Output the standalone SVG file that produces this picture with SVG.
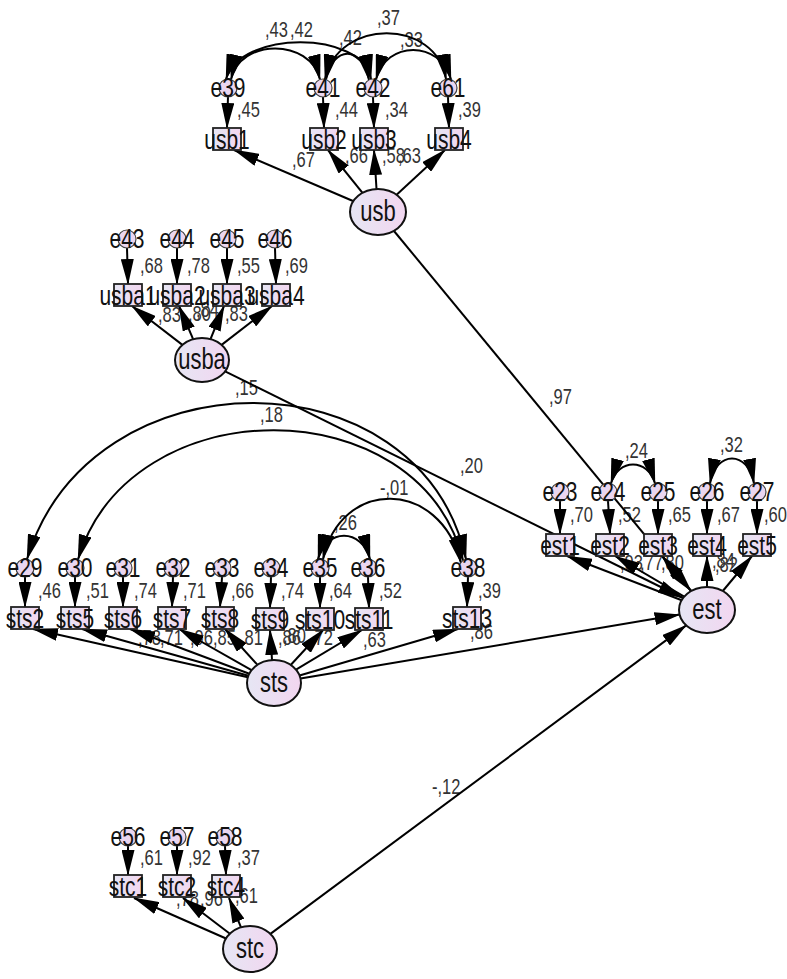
<svg xmlns="http://www.w3.org/2000/svg" width="787" height="979" viewBox="0 0 787 979">
<defs>
<linearGradient id="gl" x1="0" x2="1" y1="0" y2="0"><stop offset="0" stop-color="#e6e6f4"/><stop offset="1" stop-color="#f2d6f0"/></linearGradient>
<marker id="ah" markerUnits="userSpaceOnUse" markerWidth="26" markerHeight="13" refX="25" refY="6.5" orient="auto-start-reverse" viewBox="0 0 26 13"><path d="M0,0 L26,6.5 L0,13 z" fill="#000"/></marker>
<style>
.ln{stroke:#000;stroke-width:2;fill:none;marker-end:url(#ah)}
.cv{stroke:#000;stroke-width:2;fill:none;marker-start:url(#ah);marker-end:url(#ah)}
.bx{fill:url(#gl);stroke:#222;stroke-width:1.8}
.ec{fill:#ead6f0;stroke:#444;stroke-width:1.2}
.lat{fill:url(#gl);stroke:#111;stroke-width:2}
.n{font-family:"Liberation Sans",Arial,sans-serif;font-size:21px;text-anchor:middle;fill:#111}
.lt{font-family:"Liberation Sans",Arial,sans-serif;font-size:22px;text-anchor:middle;fill:#111}
.v{font-family:"Liberation Sans",Arial,sans-serif;font-size:16.5px;fill:#333}
</style>
</defs>
<rect width="787" height="979" fill="#fff"/>
<g id="labels">
<text class="v" transform="translate(237 117) scale(1 1.35)">,45</text>
<text class="v" transform="translate(335 117) scale(1 1.35)">,44</text>
<text class="v" transform="translate(385 117) scale(1 1.35)">,34</text>
<text class="v" transform="translate(458 117) scale(1 1.35)">,39</text>
<text class="v" transform="translate(292 167) scale(1 1.35)">,67</text>
<text class="v" transform="translate(345 163) scale(1 1.35)">,66</text>
<text class="v" transform="translate(382 163) scale(1 1.35)">,58</text>
<text class="v" transform="translate(398 163) scale(1 1.35)">,63</text>
<text class="v" transform="translate(265 37) scale(1 1.35)">,43</text>
<text class="v" transform="translate(290 37) scale(1 1.35)">,42</text>
<text class="v" transform="translate(339 45) scale(1 1.35)">,42</text>
<text class="v" transform="translate(377 25) scale(1 1.35)">,37</text>
<text class="v" transform="translate(400 47) scale(1 1.35)">,33</text>
<text class="v" transform="translate(140 273) scale(1 1.35)">,68</text>
<text class="v" transform="translate(187 273) scale(1 1.35)">,78</text>
<text class="v" transform="translate(237 273) scale(1 1.35)">,55</text>
<text class="v" transform="translate(285 273) scale(1 1.35)">,69</text>
<text class="v" transform="translate(158 322) scale(1 1.35)">,83</text>
<text class="v" transform="translate(188 321) scale(1 1.35)">,80</text>
<text class="v" transform="translate(196 317) scale(1 1.35)">,84</text>
<text class="v" transform="translate(225 321) scale(1 1.35)">,83</text>
<text class="v" transform="translate(549 404) scale(1 1.35)">,97</text>
<text class="v" transform="translate(460 473) scale(1 1.35)">,20</text>
<text class="v" transform="translate(235 395) scale(1 1.35)">,15</text>
<text class="v" transform="translate(260 422) scale(1 1.35)">,18</text>
<text class="v" transform="translate(380 495) scale(1 1.35)">-,01</text>
<text class="v" transform="translate(334 530) scale(1 1.35)">,26</text>
<text class="v" transform="translate(38 598) scale(1 1.35)">,46</text>
<text class="v" transform="translate(86 598) scale(1 1.35)">,51</text>
<text class="v" transform="translate(134 598) scale(1 1.35)">,74</text>
<text class="v" transform="translate(183 598) scale(1 1.35)">,71</text>
<text class="v" transform="translate(231 598) scale(1 1.35)">,66</text>
<text class="v" transform="translate(281 598) scale(1 1.35)">,74</text>
<text class="v" transform="translate(329 598) scale(1 1.35)">,64</text>
<text class="v" transform="translate(379 598) scale(1 1.35)">,52</text>
<text class="v" transform="translate(478 598) scale(1 1.35)">,39</text>
<text class="v" transform="translate(138 645) scale(1 1.35)">,78</text>
<text class="v" transform="translate(160 645) scale(1 1.35)">,71</text>
<text class="v" transform="translate(190 645) scale(1 1.35)">,96</text>
<text class="v" transform="translate(213 645) scale(1 1.35)">,85</text>
<text class="v" transform="translate(240 645) scale(1 1.35)">,81</text>
<text class="v" transform="translate(278 645) scale(1 1.35)">,86</text>
<text class="v" transform="translate(283 643) scale(1 1.35)">,80</text>
<text class="v" transform="translate(310 645) scale(1 1.35)">,72</text>
<text class="v" transform="translate(363 647) scale(1 1.35)">,63</text>
<text class="v" transform="translate(470 639) scale(1 1.35)">,86</text>
<text class="v" transform="translate(570 522) scale(1 1.35)">,70</text>
<text class="v" transform="translate(618 522) scale(1 1.35)">,52</text>
<text class="v" transform="translate(668 522) scale(1 1.35)">,65</text>
<text class="v" transform="translate(717 522) scale(1 1.35)">,67</text>
<text class="v" transform="translate(764 522) scale(1 1.35)">,60</text>
<text class="v" transform="translate(620 570) scale(1 1.35)">,93</text>
<text class="v" transform="translate(640 570) scale(1 1.35)">,77</text>
<text class="v" transform="translate(661 570) scale(1 1.35)">,80</text>
<text class="v" transform="translate(712 568) scale(1 1.35)">,84</text>
<text class="v" transform="translate(715 572) scale(1 1.35)">,82</text>
<text class="v" transform="translate(625 458) scale(1 1.35)">,24</text>
<text class="v" transform="translate(720 452) scale(1 1.35)">,32</text>
<text class="v" transform="translate(140 865) scale(1 1.35)">,61</text>
<text class="v" transform="translate(188 865) scale(1 1.35)">,92</text>
<text class="v" transform="translate(237 865) scale(1 1.35)">,37</text>
<text class="v" transform="translate(176 906) scale(1 1.35)">,78</text>
<text class="v" transform="translate(200 906) scale(1 1.35)">,96</text>
<text class="v" transform="translate(235 903) scale(1 1.35)">,61</text>
<text class="v" transform="translate(432 794) scale(1 1.35)">-,12</text>
</g>
<g id="connectors">
<path class="cv" d="M231,79.5 C240,38 310,38 320,79.5"/>
<path class="cv" d="M226,79.2 C240,30 362,30 371,79.2"/>
<path class="cv" d="M326,79.5 C333,45 362,45 369,80"/>
<path class="cv" d="M325,79.2 C338,18 436,18 446,79.2"/>
<path class="cv" d="M376,79.5 C386,40 440,40 451,79.5"/>
<path class="ln" d="M228,97 L227,128"/>
<path class="ln" d="M323,97 L324,128"/>
<path class="ln" d="M373,97 L374,128"/>
<path class="ln" d="M448,97 L449,128"/>
<path class="ln" d="M353,201 L234,150"/>
<path class="ln" d="M362.5,192.8 L328,150"/>
<path class="ln" d="M376.5,189 L374,150"/>
<path class="ln" d="M396.6,194.8 L445,150"/>
<path class="ln" d="M394,231 L691,591"/>
<path class="ln" d="M127,248 L128,284"/>
<path class="ln" d="M177,248 L177,284"/>
<path class="ln" d="M227,248 L227,284"/>
<path class="ln" d="M275,248 L276,284"/>
<path class="ln" d="M182.4,344.9 L132,306"/>
<path class="ln" d="M193.1,339.2 L179,306"/>
<path class="ln" d="M210.5,339.2 L224,306"/>
<path class="ln" d="M221.6,344.9 L272,306"/>
<path class="ln" d="M225.1,371.4 L683,598"/>
<path class="cv" d="M27,559.3 C90,351 420,351 466,559.2"/>
<path class="cv" d="M78,559.5 C130,387 420,387 463,560.5"/>
<path class="cv" d="M323,559.5 C340,478 440,478 461,563"/>
<path class="cv" d="M318,559.2 C326,528 362,528 370,559.2"/>
<path class="ln" d="M25,577 L25,607"/>
<path class="ln" d="M75,577 L75,607"/>
<path class="ln" d="M123,577 L123,607"/>
<path class="ln" d="M173,577 L172,607"/>
<path class="ln" d="M222,577 L220,607"/>
<path class="ln" d="M271,577 L270,608"/>
<path class="ln" d="M320,577 L320,608"/>
<path class="ln" d="M368,577 L369,608"/>
<path class="ln" d="M468,577 L467,607"/>
<path class="ln" d="M247.9,677.2 L33,629"/>
<path class="ln" d="M248.4,675.8 L82,629"/>
<path class="ln" d="M249.3,673.7 L130,629"/>
<path class="ln" d="M251.5,670.2 L179,629"/>
<path class="ln" d="M257.5,664.8 L225,629"/>
<path class="ln" d="M272,660 L270,630"/>
<path class="ln" d="M290.7,665 L323,630"/>
<path class="ln" d="M296,669.7 L362,630"/>
<path class="ln" d="M299.5,675.5 L458,629"/>
<path class="ln" d="M300.5,678.5 L679.6,614.6"/>
<path class="cv" d="M611,483.5 C618,458 648,458 655,483.5"/>
<path class="cv" d="M710,483.5 C716,450 748,450 754,483.5"/>
<path class="ln" d="M560,501 L560,534"/>
<path class="ln" d="M608,501 L610,534"/>
<path class="ln" d="M658,501 L658,534"/>
<path class="ln" d="M707,501 L707,534"/>
<path class="ln" d="M757,501 L757,534"/>
<path class="ln" d="M681.7,600.2 L567,556"/>
<path class="ln" d="M684.2,596.6 L615,556"/>
<path class="ln" d="M691.2,591 L662,556"/>
<path class="ln" d="M707,587 L707,556"/>
<path class="ln" d="M722.8,591 L752,556"/>
<path class="ln" d="M128,846 L128,875"/>
<path class="ln" d="M177,846 L177,875"/>
<path class="ln" d="M225,846 L226,875"/>
<path class="ln" d="M226,938.5 L134,898"/>
<path class="ln" d="M229.9,933.7 L183,898"/>
<path class="ln" d="M241,927.3 L229,898"/>
<path class="ln" d="M270.4,933.9 L686.2,625.4"/>
</g>
<g id="e39"><circle class="ec" cx="228" cy="88" r="9"/><text class="n" transform="translate(228 97) scale(1 1.3)">e39</text></g>
<g id="e41"><circle class="ec" cx="323" cy="88" r="9"/><text class="n" transform="translate(323 97) scale(1 1.3)">e41</text></g>
<g id="e42"><circle class="ec" cx="373" cy="88" r="9"/><text class="n" transform="translate(373 97) scale(1 1.3)">e42</text></g>
<g id="e61"><circle class="ec" cx="448" cy="88" r="9"/><text class="n" transform="translate(448 97) scale(1 1.3)">e61</text></g>
<g id="usb1"><rect class="bx" x="213" y="128" width="28" height="22"/><text class="n" transform="translate(227 148.5) scale(1 1.3)">usb1</text></g>
<g id="usb2"><rect class="bx" x="310" y="128" width="28" height="22"/><text class="n" transform="translate(324 148.5) scale(1 1.3)">usb2</text></g>
<g id="usb3"><rect class="bx" x="360" y="128" width="28" height="22"/><text class="n" transform="translate(374 148.5) scale(1 1.3)">usb3</text></g>
<g id="usb4"><rect class="bx" x="435" y="128" width="28" height="22"/><text class="n" transform="translate(449 148.5) scale(1 1.3)">usb4</text></g>
<g id="usb"><ellipse class="lat" cx="378" cy="212" rx="28" ry="23"/><text class="lt" transform="translate(378 221) scale(1 1.3)">usb</text></g>
<g id="e43"><circle class="ec" cx="127" cy="239" r="9"/><text class="n" transform="translate(127 248) scale(1 1.3)">e43</text></g>
<g id="e44"><circle class="ec" cx="177" cy="239" r="9"/><text class="n" transform="translate(177 248) scale(1 1.3)">e44</text></g>
<g id="e45"><circle class="ec" cx="227" cy="239" r="9"/><text class="n" transform="translate(227 248) scale(1 1.3)">e45</text></g>
<g id="e46"><circle class="ec" cx="275" cy="239" r="9"/><text class="n" transform="translate(275 248) scale(1 1.3)">e46</text></g>
<g id="usba1"><rect class="bx" x="114" y="284" width="28" height="22"/><text class="n" transform="translate(128 304.5) scale(1 1.3)">usba1</text></g>
<g id="usba2"><rect class="bx" x="163" y="284" width="28" height="22"/><text class="n" transform="translate(177 304.5) scale(1 1.3)">usba2</text></g>
<g id="usba3"><rect class="bx" x="213" y="284" width="28" height="22"/><text class="n" transform="translate(227 304.5) scale(1 1.3)">usba3</text></g>
<g id="usba4"><rect class="bx" x="262" y="284" width="28" height="22"/><text class="n" transform="translate(276 304.5) scale(1 1.3)">usba4</text></g>
<g id="usba"><ellipse class="lat" cx="202" cy="360" rx="27" ry="22"/><text class="lt" transform="translate(202 369) scale(1 1.3)">usba</text></g>
<g id="e29"><circle class="ec" cx="25" cy="568" r="9"/><text class="n" transform="translate(25 577) scale(1 1.3)">e29</text></g>
<g id="e30"><circle class="ec" cx="75" cy="568" r="9"/><text class="n" transform="translate(75 577) scale(1 1.3)">e30</text></g>
<g id="e31"><circle class="ec" cx="123" cy="568" r="9"/><text class="n" transform="translate(123 577) scale(1 1.3)">e31</text></g>
<g id="e32"><circle class="ec" cx="173" cy="568" r="9"/><text class="n" transform="translate(173 577) scale(1 1.3)">e32</text></g>
<g id="e33"><circle class="ec" cx="222" cy="568" r="9"/><text class="n" transform="translate(222 577) scale(1 1.3)">e33</text></g>
<g id="e34"><circle class="ec" cx="271" cy="568" r="9"/><text class="n" transform="translate(271 577) scale(1 1.3)">e34</text></g>
<g id="e35"><circle class="ec" cx="320" cy="568" r="9"/><text class="n" transform="translate(320 577) scale(1 1.3)">e35</text></g>
<g id="e36"><circle class="ec" cx="368" cy="568" r="9"/><text class="n" transform="translate(368 577) scale(1 1.3)">e36</text></g>
<g id="e38"><circle class="ec" cx="468" cy="568" r="9"/><text class="n" transform="translate(468 577) scale(1 1.3)">e38</text></g>
<g id="sts2"><rect class="bx" x="11" y="607" width="28" height="22"/><text class="n" transform="translate(25 627.5) scale(1 1.3)">sts2</text></g>
<g id="sts5"><rect class="bx" x="61" y="607" width="28" height="22"/><text class="n" transform="translate(75 627.5) scale(1 1.3)">sts5</text></g>
<g id="sts6"><rect class="bx" x="109" y="607" width="28" height="22"/><text class="n" transform="translate(123 627.5) scale(1 1.3)">sts6</text></g>
<g id="sts7"><rect class="bx" x="158" y="607" width="28" height="22"/><text class="n" transform="translate(172 627.5) scale(1 1.3)">sts7</text></g>
<g id="sts8"><rect class="bx" x="206" y="607" width="28" height="22"/><text class="n" transform="translate(220 627.5) scale(1 1.3)">sts8</text></g>
<g id="sts9"><rect class="bx" x="256" y="608" width="28" height="22"/><text class="n" transform="translate(270 628.5) scale(1 1.3)">sts9</text></g>
<g id="sts10"><rect class="bx" x="306" y="608" width="28" height="22"/><text class="n" transform="translate(320 628.5) scale(1 1.3)">sts10</text></g>
<g id="sts11"><rect class="bx" x="355" y="608" width="28" height="22"/><text class="n" transform="translate(369 628.5) scale(1 1.3)">sts11</text></g>
<g id="sts13"><rect class="bx" x="453" y="607" width="28" height="22"/><text class="n" transform="translate(467 627.5) scale(1 1.3)">sts13</text></g>
<g id="sts"><ellipse class="lat" cx="274" cy="683" rx="27" ry="23"/><text class="lt" transform="translate(274 692) scale(1 1.3)">sts</text></g>
<g id="e23"><circle class="ec" cx="560" cy="492" r="9"/><text class="n" transform="translate(560 501) scale(1 1.3)">e23</text></g>
<g id="e24"><circle class="ec" cx="608" cy="492" r="9"/><text class="n" transform="translate(608 501) scale(1 1.3)">e24</text></g>
<g id="e25"><circle class="ec" cx="658" cy="492" r="9"/><text class="n" transform="translate(658 501) scale(1 1.3)">e25</text></g>
<g id="e26"><circle class="ec" cx="707" cy="492" r="9"/><text class="n" transform="translate(707 501) scale(1 1.3)">e26</text></g>
<g id="e27"><circle class="ec" cx="757" cy="492" r="9"/><text class="n" transform="translate(757 501) scale(1 1.3)">e27</text></g>
<g id="est1"><rect class="bx" x="546" y="534" width="28" height="22"/><text class="n" transform="translate(560 554.5) scale(1 1.3)">est1</text></g>
<g id="est2"><rect class="bx" x="596" y="534" width="28" height="22"/><text class="n" transform="translate(610 554.5) scale(1 1.3)">est2</text></g>
<g id="est3"><rect class="bx" x="644" y="534" width="28" height="22"/><text class="n" transform="translate(658 554.5) scale(1 1.3)">est3</text></g>
<g id="est4"><rect class="bx" x="693" y="534" width="28" height="22"/><text class="n" transform="translate(707 554.5) scale(1 1.3)">est4</text></g>
<g id="est5"><rect class="bx" x="743" y="534" width="28" height="22"/><text class="n" transform="translate(757 554.5) scale(1 1.3)">est5</text></g>
<g id="est"><ellipse class="lat" cx="707" cy="610" rx="28" ry="23"/><text class="lt" transform="translate(707 619) scale(1 1.3)">est</text></g>
<g id="e56"><circle class="ec" cx="128" cy="837" r="9"/><text class="n" transform="translate(128 846) scale(1 1.3)">e56</text></g>
<g id="e57"><circle class="ec" cx="177" cy="837" r="9"/><text class="n" transform="translate(177 846) scale(1 1.3)">e57</text></g>
<g id="e58"><circle class="ec" cx="225" cy="837" r="9"/><text class="n" transform="translate(225 846) scale(1 1.3)">e58</text></g>
<g id="stc1"><rect class="bx" x="114" y="875" width="28" height="22"/><text class="n" transform="translate(128 895.5) scale(1 1.3)">stc1</text></g>
<g id="stc2"><rect class="bx" x="163" y="875" width="28" height="22"/><text class="n" transform="translate(177 895.5) scale(1 1.3)">stc2</text></g>
<g id="stc4"><rect class="bx" x="212" y="875" width="28" height="22"/><text class="n" transform="translate(226 895.5) scale(1 1.3)">stc4</text></g>
<g id="stc"><ellipse class="lat" cx="250" cy="949" rx="27" ry="23"/><text class="lt" transform="translate(250 958) scale(1 1.3)">stc</text></g>
</svg>
